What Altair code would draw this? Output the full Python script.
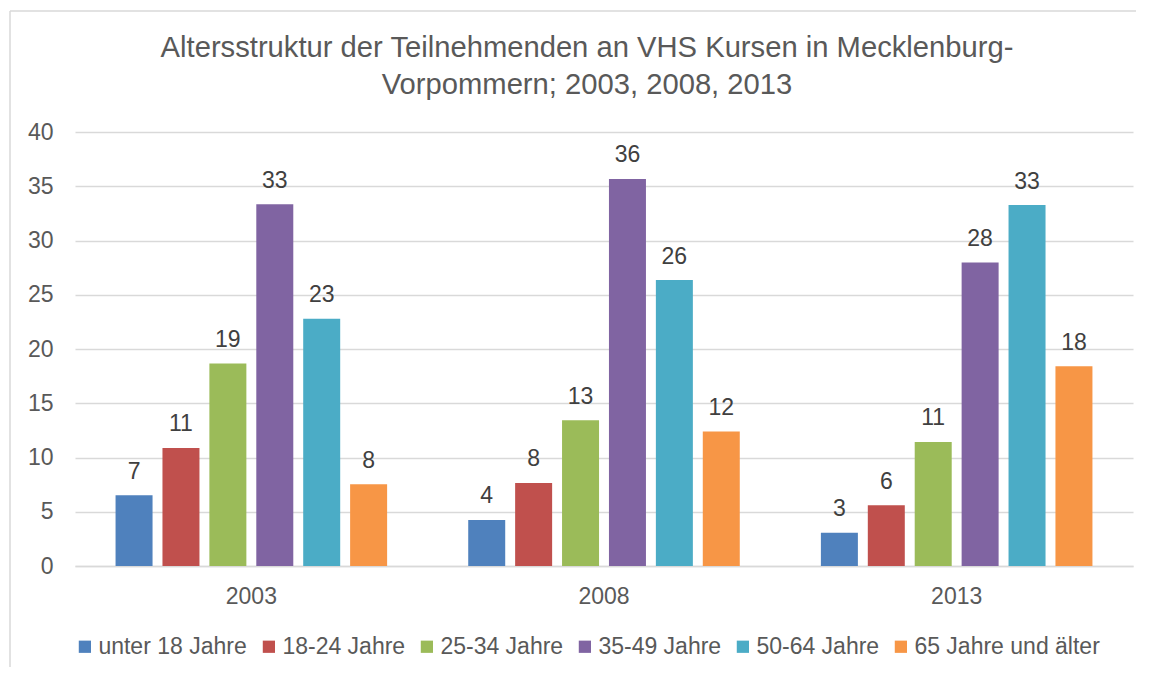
import altair as alt
import pandas as pd

years = ["2003", "2008", "2013"]
groups = ["unter 18 Jahre", "18-24 Jahre", "25-34 Jahre", "35-49 Jahre",
          "50-64 Jahre", "65 Jahre und älter"]
v2003 = [6.52, 10.88, 18.66, 33.33, 22.79, 7.53]
v2008 = [4.24, 7.66, 13.44, 35.67, 26.35, 12.39]
v2013 = [3.07, 5.60, 11.44, 27.98, 33.27, 18.42]
colors = ["#4F81BD", "#C0504D", "#9BBB59", "#8064A2", "#4BACC6", "#F79646"]
y_ticks = [0, 5, 10, 15, 20, 25, 30, 35, 40]
title_lines = ["Altersstruktur der Teilnehmenden an VHS Kursen in Mecklenburg-",
               "Vorpommern; 2003, 2008, 2013"]

rows = []
for yr, vals in zip(years, [v2003, v2008, v2013]):
    for g, v in zip(groups, vals):
        rows.append({"Jahr": yr, "Gruppe": g, "Wert": v})
df = pd.DataFrame(rows)

FONT = "Liberation Sans"
W, H = 1058, 434

x_enc = alt.X("Jahr:N", sort=years, title=None,
              scale=alt.Scale(paddingInner=0.23, paddingOuter=0.115),
              axis=alt.Axis(labelAngle=0, labelFontSize=23, labelFont=FONT,
                            labelColor="#595959", ticks=False, tickSize=0,
                            labelBaseline="alphabetic", labelPadding=37,
                            domain=True, domainColor="#d9d9d9", domainWidth=1.3,
                            grid=False))
xo_enc = alt.XOffset("Gruppe:N", sort=groups,
                     scale=alt.Scale(paddingInner=0.2114, paddingOuter=0))
y_enc = alt.Y("Wert:Q", title=None,
              scale=alt.Scale(domain=[0, 40], nice=False),
              axis=alt.Axis(values=y_ticks, labelFontSize=23, labelFont=FONT,
                            labelColor="#595959", ticks=False, tickSize=0,
                            labelPadding=22, domain=False, grid=True,
                            gridColor="#d9d9d9", gridWidth=1.3))

base = alt.Chart(df)

bars = base.mark_bar().encode(
    x=x_enc,
    xOffset=xo_enc,
    y=y_enc,
    color=alt.Color("Gruppe:N", sort=groups,
                    scale=alt.Scale(domain=groups, range=colors),
                    legend=alt.Legend(title=None, orient="none", direction="horizontal",
                                      legendX=-1.6, legendY=503,
                                      symbolType="square", symbolSize=150,
                                      symbolStrokeWidth=0, labelOffset=2,
                                      columnPadding=10, labelFont=FONT,
                                      labelLimit=0,
                                      labelFontSize=23, labelColor="#595959")),
)

labels = base.mark_text(baseline="alphabetic", dy=-16.5, fontSize=23,
                        font=FONT, color="#404040").encode(
    x=alt.X("Jahr:N", sort=years),
    xOffset=alt.XOffset("Gruppe:N", sort=groups),
    y=alt.Y("Wert:Q"),
    text=alt.Text("Wert:Q", format=".0f"),
)

frame_df = pd.DataFrame({"k": [0]})
top_line = alt.Chart(frame_df).mark_rule(color="#d9d9d9", strokeWidth=1.5).encode(
    x=alt.value(-65), x2=alt.value(1069), y=alt.value(-121))
left_line = alt.Chart(frame_df).mark_rule(color="#d9d9d9", strokeWidth=1.5).encode(
    x=alt.value(-65), y=alt.value(-121), y2=alt.value(545))
title_text = alt.Chart(frame_df).mark_text(
    text=title_lines, font=FONT, fontSize=29.2, color="#595959",
    align="center", baseline="alphabetic", lineHeight=36.7).encode(
    x=alt.value(512), y=alt.value(-74.7))

chart = alt.layer(top_line, left_line, title_text, bars, labels).properties(
    width=W, height=H,
    background="white",
    autosize=alt.AutoSizeParams(type="none"),
    padding={"left": 67, "top": 124, "right": 3, "bottom": 101},
).configure_view(strokeWidth=0, stroke="transparent")

chart.save("out.html", embed_options={"renderer": "svg", "actions": False})
